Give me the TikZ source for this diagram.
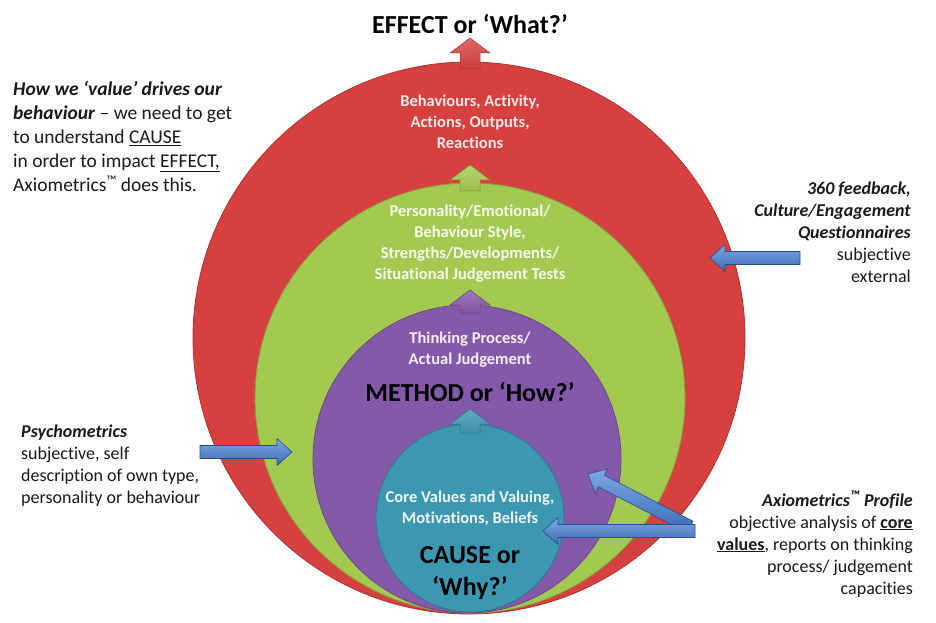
\documentclass[tikz,border=0pt]{standalone}
\usepackage{fontspec}
\setmainfont{Carlito}[Ligatures=NoCommon]
\usepackage{tikz}
\usetikzlibrary{calc,positioning}

\definecolor{effectred}{RGB}{214,64,62}
\definecolor{stylegreen}{RGB}{163,201,80}
\definecolor{methodpurple}{RGB}{132,89,170}
\definecolor{causeteal}{RGB}{60,151,176}
\definecolor{arrowblue}{RGB}{58,106,180}
\definecolor{arrowlight}{RGB}{125,170,228}
\definecolor{arrowedge}{RGB}{40,78,140}
\definecolor{sidetext}{RGB}{25,25,25}

% small trade mark sign
\newcommand{\tmark}{\raisebox{0.3em}{\fontsize{14}{14}\selectfont ™}}

% block arrow from #2 (tail) to #3 (tip): shaft half width #4, head half width #5, head length #6
\newcommand{\blockarrow}[6][]{%
  \coordinate (headbase) at ($(#3)!#6!(#2)$);
  \path[#1] ($(#2)!#4!90:(#3)$) -- ($(headbase)!#4!90:(#3)$) -- ($(headbase)!#5!90:(#3)$) -- (#3)
    -- ($(headbase)!#5!-90:(#3)$) -- ($(headbase)!#4!-90:(#3)$) -- ($(#2)!#4!-90:(#3)$) -- cycle;}

\tikzset{
  ring/.style={circle, inner sep=0pt, outer sep=0pt, line width=0.8pt},
  inside/.style={align=center, inner sep=0pt, font=\bfseries\fontsize{16.5}{21}\selectfont},
  heading/.style={align=center, inner sep=0pt, text=black, font=\bfseries\fontsize{26}{32}\selectfont},
  side/.style={inner sep=0pt, text=sidetext, font=\fontsize{18}{22}\selectfont},
  bluearrow/.style={draw=arrowedge, line width=0.6pt, top color=arrowlight, bottom color=arrowblue}
}

\begin{document}
\begin{tikzpicture}[x=1pt,y=1pt]
  \useasboundingbox (0,0) rectangle (936,622);

  % Draw the four nested circles, largest first
  \foreach \name/\cx/\cy/\r/\col in {effect/469/284/276/effectred, style/470/224/215/stylegreen,
      method/467/163/154/methodpurple, cause/470/104/94/causeteal}
    \node[ring, fill=\col, draw=\col!80!black, minimum size=2*\r] (\name) at (\cx,\cy) {};

  % Draw the up arrows leading from each circle to the next one
  \foreach \tailY/\tipY/\col in {553/584/effectred, 431/457/stylegreen, 309/332/methodpurple, 189/213/causeteal}
  {
    \coordinate (uptail) at (470,\tailY);
    \coordinate (uptip) at (470,\tipY);
    \blockarrow[draw=\col!75!black, line width=0.5pt, top color=\col!80!white, bottom color=\col!95!black]{uptail}{uptip}{10pt}{20pt}{15pt}
  }

  % Headings
  \node[heading] (what) at (470,598) {EFFECT or ‘What?’};
  \node[heading] (how) at (470,230) {METHOD or ‘How?’};
  \node[heading] (why) at (470,49) {CAUSE or\\‘Why?’};

  % Text inside the circles
  \node[inside, text=effectred!12!white] (effecttxt) at (470,500) {Behaviours, Activity,\\Actions, Outputs,\\Reactions};
  \node[inside, text=stylegreen!10!white] (styletxt) at (470,378) {Personality/Emotional/\\Behaviour Style,\\Strengths/Developments/\\Situational Judgement Tests};
  \node[inside, text=methodpurple!10!white] (methodtxt) at (470,272) {Thinking Process/\\Actual Judgement};
  \node[inside, text=causeteal!8!white] (causetxt) at (470,114) {Core Values and Valuing,\\Motivations, Beliefs};

  % Side notes
  \node[side, align=left, anchor=north west, font=\fontsize{19.5}{24}\selectfont] (valuetxt) at (13,541)
    {\textbf{\textit{How we ‘value’ drives our}}\\\textbf{\textit{behaviour}} – we need to get\\to understand \underline{CAUSE}\\in order to impact \underline{EFFECT,}\\Axiometrics\tmark\ does this.};
  \node[side, align=right, anchor=north east] (feedbacktxt) at (911,440)
    {\textbf{\textit{360 feedback,}}\\\textbf{\textit{Culture/Engagement}}\\\textbf{\textit{Questionnaires}}\\subjective\\external};
  \node[side, align=left, anchor=north west] (psychotxt) at (21,197)
    {\textbf{\textit{Psychometrics}}\\subjective, self\\description of own type,\\personality or behaviour};
  \node[side, align=right, anchor=north east] (axiotxt) at (913,131)
    {\textbf{\textit{Axiometrics\tmark\ Profile}}\\objective analysis of \underline{\textbf{core}}\\\underline{\textbf{values}}, reports on thinking\\process/ judgement\\capacities};

  % Blue arrows from the side notes into the circles
  \coordinate (feedbacktail) at (800,364);
  \coordinate (feedbacktip) at (710,364);
  \coordinate (psychotail) at (200,170);
  \coordinate (psychotip) at (292,170);
  \coordinate (axiotail) at (695,91);
  \coordinate (axiotip) at (543,91);
  \coordinate (axiotail2) at (690,95);
  \coordinate (axiotip2) at (588,148);
  \blockarrow[bluearrow]{feedbacktail}{feedbacktip}{6.5pt}{13.5pt}{15pt}
  \blockarrow[bluearrow]{psychotail}{psychotip}{6.5pt}{13.5pt}{15pt}
  \blockarrow[bluearrow]{axiotail2}{axiotip2}{6.5pt}{13.5pt}{15pt}
  \blockarrow[bluearrow]{axiotail}{axiotip}{6.5pt}{13.5pt}{15pt}
\end{tikzpicture}
\end{document}
